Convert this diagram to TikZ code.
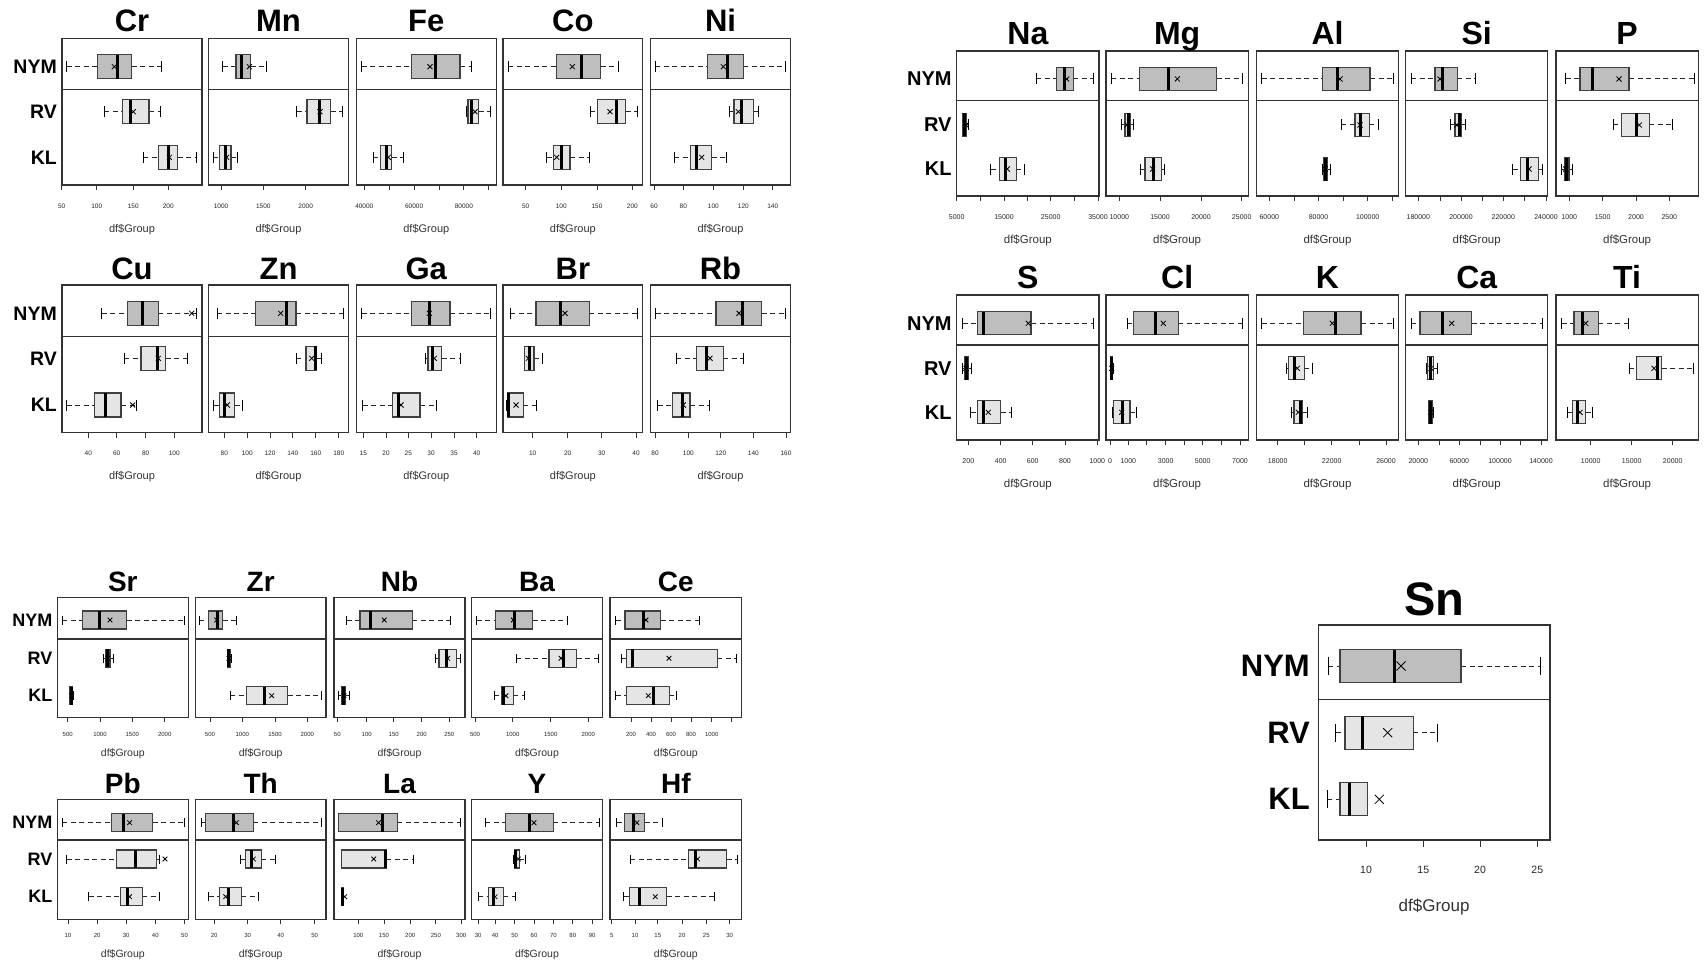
\documentclass[tikz,border=0pt]{standalone}
\usepackage{fontspec}
\setmainfont{Liberation Sans}
\definecolor{nymfill}{HTML}{BEBEBE}
\definecolor{grpfill}{HTML}{E5E5E5}
\definecolor{framegray}{HTML}{333333}
\tikzset{
  panelframe/.style={draw=framegray,line width=1.3pt},
  nymbox/.style={draw=black!75,fill=nymfill,line width=1.1pt},
  grpbox/.style={draw=black!75,fill=grpfill,line width=1.1pt},
  medline/.style={line width=3pt},
  whisk/.style={draw=black!85,line width=1pt,dash pattern=on 5pt off 3.5pt},
  capline/.style={line width=1pt},
  meanmark/.style={line width=0.8pt},
  tickline/.style={draw=framegray,line width=0.9pt},
  elemtitle/.style={anchor=base,inner sep=0pt,font=\fontsize{\tsz}{\tsz}\selectfont\bfseries},
  grplab/.style={anchor=east,inner sep=0pt,font=\fontsize{\gsz}{\gsz}\selectfont\bfseries},
  ticklab/.style={inner sep=0pt,text=black!85,font=\fontsize{\ksz}{\ksz}\selectfont},
  axlab/.style={inner sep=0pt,text=black!80,font=\fontsize{\asz}{\asz}\selectfont}
}
% row geometry: top, bottom, divider, NYM, RV, KL, tick labels, axis label, title baseline
\newcommand{\setrow}[9]{\def\yT{#1}\def\yB{#2}\def\yD{#3}\def\yN{#4}\def\yR{#5}\def\yK{#6}\def\yTk{#7}\def\yAx{#8}\def\yTi{#9}}
% one panel: element, left, right
\newcommand{\panel}[3]{%
  \draw[panelframe] (#2,\yT) rectangle (#3,\yB);
  \draw[panelframe] (#2,\yD) -- (#3,\yD);
  \node[elemtitle] (t#1) at ({(#2+#3)/2},\yTi) {#1};
  \node[axlab] (a#1) at ({(#2+#3)/2},\yAx) {df\$Group};
}
\newcommand{\ticks}[1]{%
  \foreach \p/\l in {#1}{
    \draw[tickline] (\p,\yB) -- (\p,\yB+\tkl);
    \node[ticklab] at (\p,\yTk) {\l};
  }}
% one box: [fill style] y, low whisker, q1, median, q3, high whisker, mean
\newcommand{\bxp}[8][grpbox]{%
  \draw[whisk] (#3,#2) -- (#4,#2) (#6,#2) -- (#7,#2);
  \draw[capline] (#3,#2-\caph) -- (#3,#2+\caph) (#7,#2-\caph) -- (#7,#2+\caph);
  \draw[#1] (#4,#2-\boxh) rectangle (#6,#2+\boxh);
  \draw[medline] (#5,#2-\boxh) -- (#5,#2+\boxh);
  \draw[meanmark] (#8-\mkh,#2-\mkh) -- (#8+\mkh,#2+\mkh) (#8-\mkh,#2+\mkh) -- (#8+\mkh,#2-\mkh);
}
\newcommand{\grplabels}[1]{%
  \node[grplab] at (#1,\yN) {NYM};
  \node[grplab] at (#1,\yR) {RV};
  \node[grplab] at (#1,\yK) {KL};}
\begin{document}
\begin{tikzpicture}[x=1pt,y=-1pt]
  \fill[white] (0,0) rectangle (1705,963);
  \useasboundingbox (0,0) rectangle (1705,963);
  %% top left block
  \def\tsz{31}\def\gsz{19.5}\def\ksz{6.5}\def\asz{11}\def\boxh{12}\def\caph{5.5}\def\mkh{2.5}\def\tkl{5}
  \setrow{38.3}{185}{89.3}{66.7}{111.7}{157.3}{206}{230}{31.7}
  \grplabels{57}
  \panel{Cr}{62}{202}
  \ticks{61.7/50,96.7/100,133.3/150,168.3/200}
  \bxp[nymbox]{\yN}{66.7}{97.3}{117.3}{131.7}{161.7}{114.3}
  \bxp{\yR}{104}{122.7}{130.3}{149}{160.3}{133.3}
  \bxp{\yK}{143.3}{158.3}{168.3}{177.7}{196.7}{169.3}
  \panel{Mn}{208.5}{348.5}
  \ticks{221/1000,263.3/1500,305.7/2000}
  \bxp[nymbox]{\yN}{222.7}{236}{241}{250.7}{266}{249.3}
  \bxp{\yR}{296.7}{307}{319.3}{330.7}{342.7}{320}
  \bxp{\yK}{213.3}{219.3}{225.3}{231}{237.3}{226.7}
  \panel{Fe}{356.3}{496.3}
  \ticks{364.3/40000,389.2/{},414.1/60000,439/{},463.9/80000,488.8/{}}
  \bxp[nymbox]{\yN}{361.7}{411.7}{435.7}{460}{471}{430}
  \bxp{\yR}{466.3}{468}{471}{478.7}{490.7}{475}
  \bxp{\yK}{373.3}{380.7}{386}{391.7}{403}{388.3}
  \panel{Co}{503}{642.7}
  \ticks{525.7/50,561.3/100,597/150,632.3/200}
  \bxp[nymbox]{\yN}{508.3}{556.7}{581.7}{600.7}{618}{572.3}
  \bxp{\yR}{590}{597.3}{616.7}{625.7}{637.3}{610}
  \bxp{\yK}{546.7}{553.3}{561}{570}{589}{556.7}
  \panel{Ni}{650.3}{790.7}
  \ticks{654/60,683.3/80,713.3/100,743.3/120,772.7/140}
  \bxp[nymbox]{\yN}{655}{707.3}{727.7}{743.3}{785}{723.3}
  \bxp{\yR}{729.3}{734}{741.7}{753.3}{758.3}{738.3}
  \bxp{\yK}{674}{690.7}{696.7}{711.7}{726.7}{701.7}
  \setrow{285}{432.7}{336.7}{313.3}{358.3}{405}{453.3}{476.7}{279.3}
  \grplabels{57}
  \panel{Cu}{62}{202}
  \ticks{88.3/40,116.7/60,145.7/80,174.3/100}
  \bxp[nymbox]{\yN}{101.7}{127.7}{142.3}{158.3}{196.7}{191.7}
  \bxp{\yR}{124.3}{141}{157.3}{165.7}{187.3}{158.3}
  \bxp{\yK}{66.7}{94.7}{105}{121}{136}{132.7}
  \panel{Zn}{208.5}{348.5}
  \ticks{224.3/80,247.3/100,270/120,292.7/140,315.7/160,338.7/180}
  \bxp[nymbox]{\yN}{217}{255.7}{286.7}{296}{343.3}{280.7}
  \bxp{\yR}{296}{306}{315}{316.7}{321.7}{311.7}
  \bxp{\yK}{213.7}{219.3}{224}{234.7}{242.7}{227.3}
  \panel{Ga}{356.3}{496.3}
  \ticks{363.3/15,386/20,408.3/25,431/30,454/35,476.7/40}
  \bxp[nymbox]{\yN}{361.7}{411.7}{429.3}{450}{490.7}{429.3}
  \bxp{\yR}{425.3}{428}{432.7}{441.7}{460}{434.3}
  \bxp{\yK}{362.7}{392.3}{398.3}{420}{436}{401}
  \panel{Br}{503}{642.7}
  \ticks{532.7/10,567.7/20,601.7/30,636/40}
  \bxp[nymbox]{\yN}{510}{536}{560.7}{589.3}{637.3}{565}
  \bxp{\yR}{524}{524.7}{529}{534}{542.3}{528.3}
  \bxp{\yK}{506.7}{507.3}{508.3}{523.3}{536}{516}
  \panel{Rb}{650.3}{790.7}
  \ticks{655/80,688.3/100,720.7/120,753.3/140,786/160}
  \bxp[nymbox]{\yN}{655.7}{716}{742.3}{761.7}{785}{739}
  \bxp{\yR}{676}{696.7}{706.7}{723.3}{743.3}{710}
  \bxp{\yK}{657.7}{672.7}{682.7}{690}{709.3}{683.3}
  %% top right block
  \def\tsz{32}\def\gsz{20}\def\ksz{7}\def\asz{11.5}\def\boxh{11.5}\def\caph{5.5}\def\mkh{2.5}
  \setrow{51}{196}{100.7}{79}{125}{169}{216.7}{240}{45}
  \grplabels{951.7}
  \panel{Na}{956.7}{1099}
  \ticks{956.7/5000,980/{},1004/15000,1027.3/{},1050.7/25000,1074.3/{},1098/35000}
  \bxp[nymbox]{\yN}{1036}{1056.7}{1064.3}{1073.3}{1093.3}{1066.7}
  \bxp{\yR}{962}{962.3}{964}{966}{968.3}{966}
  \bxp{\yK}{990.7}{999.3}{1005}{1016.3}{1024.7}{1007.3}
  \panel{Mg}{1106}{1248.3}
  \ticks{1119.3/10000,1160/15000,1201/20000,1241.7/25000}
  \bxp[nymbox]{\yN}{1111}{1139.3}{1168}{1216.7}{1242.7}{1177.3}
  \bxp{\yR}{1121.7}{1125}{1128}{1130}{1133.3}{1127}
  \bxp{\yK}{1140}{1145}{1153.3}{1161.3}{1164.3}{1152.7}
  \panel{Al}{1256.7}{1398.3}
  \ticks{1269.3/60000,1294.3/{},1318.5/80000,1343.3/{},1367.7/100000,1392.3/{}}
  \bxp[nymbox]{\yN}{1261.7}{1322.7}{1337.7}{1370}{1393.3}{1340}
  \bxp{\yR}{1341}{1355}{1360}{1369.3}{1378.7}{1360}
  \bxp{\yK}{1322.3}{1323.3}{1325.7}{1327.7}{1330}{1325}
  \panel{Si}{1405.7}{1547.7}
  \ticks{1418.3/180000,1440/{},1461/200000,1482.3/{},1503.3/220000,1524.3/{},1546/240000}
  \bxp[nymbox]{\yN}{1411}{1435}{1442.7}{1457.3}{1475.7}{1440}
  \bxp{\yR}{1450}{1455}{1459.3}{1461.7}{1465}{1456.7}
  \bxp{\yK}{1512.7}{1520.7}{1527.3}{1538.3}{1542.7}{1529}
  \panel{P}{1556}{1698.3}
  \ticks{1569.3/1000,1602.7/1500,1636/2000,1669.3/2500}
  \bxp[nymbox]{\yN}{1565.7}{1580}{1592.7}{1629}{1694}{1619}
  \bxp{\yR}{1613.3}{1621.7}{1636.7}{1649.3}{1672.3}{1639.3}
  \bxp{\yK}{1561.7}{1564.3}{1566}{1569}{1572.7}{1565.7}
  \setrow{295}{440}{345}{323.3}{368.3}{412.3}{460.7}{484}{288.3}
  \grplabels{951.7}
  \panel{S}{956.7}{1099}
  \ticks{968.3/200,1000.7/400,1032.7/600,1065/800,1097.3/1000}
  \bxp[nymbox]{\yN}{962.7}{977.3}{983.3}{1031}{1093.3}{1028.3}
  \bxp{\yR}{962}{965}{966.7}{968.3}{971}{966}
  \bxp{\yK}{970.7}{977.3}{983.3}{1000.7}{1011}{988.3}
  \panel{Cl}{1106}{1248.3}
  \ticks{1110/0,1128.3/1000,1146.7/{},1165.7/3000,1184/{},1202.7/5000,1221.7/{},1240/7000}
  \bxp[nymbox]{\yN}{1127.3}{1133.3}{1155}{1178.3}{1242.7}{1163.3}
  \bxp{\yR}{1110}{1110.3}{1111.7}{1112.7}{1113.3}{1111.7}
  \bxp{\yK}{1112.3}{1113.3}{1122.7}{1130}{1136}{1121.7}
  \panel{K}{1256.7}{1398.3}
  \ticks{1277.7/18000,1304.3/{},1331.7/22000,1359/{},1386/26000}
  \bxp[nymbox]{\yN}{1261.7}{1303.3}{1335.7}{1361}{1393.3}{1332.3}
  \bxp{\yR}{1286}{1288.3}{1294.3}{1304.3}{1312}{1297.3}
  \bxp{\yK}{1291.7}{1294}{1300}{1302.7}{1307.3}{1298.3}
  \panel{Ca}{1405.7}{1547.7}
  \ticks{1418.3/20000,1439/{},1459.3/60000,1480/{},1500/100000,1520.7/{},1541/140000}
  \bxp[nymbox]{\yN}{1411}{1420}{1442.7}{1471.7}{1542.7}{1451.7}
  \bxp{\yR}{1426.7}{1427.7}{1430.7}{1433.3}{1437.7}{1431}
  \bxp{\yK}{1428.3}{1429}{1430.7}{1432.7}{1433.3}{1430.7}
  \panel{Ti}{1556}{1698.3}
  \ticks{1590.7/10000,1631.7/15000,1672.7/20000}
  \bxp[nymbox]{\yN}{1561.7}{1574}{1582.7}{1598.3}{1628.3}{1585.7}
  \bxp{\yR}{1629.3}{1636.7}{1657.3}{1661.7}{1693.3}{1654}
  \bxp{\yK}{1567.7}{1572.3}{1577.3}{1585.7}{1592.3}{1580}
  %% bottom left block
  \def\tsz{28}\def\gsz{18}\def\ksz{6}\def\asz{10.5}\def\boxh{9}\def\caph{4.5}\def\mkh{2.3}
  \setrow{597.3}{717.3}{639}{620}{658.3}{695.7}{734}{753.3}{591.7}
  \grplabels{52.5}
  \panel{Sr}{57.3}{188.3}
  \ticks{67.7/500,100/1000,132.3/1500,164.7/2000}
  \bxp[nymbox]{\yN}{62.3}{82.3}{99.3}{126.7}{184}{110}
  \bxp{\yR}{103.3}{105.3}{107.3}{110}{113.3}{107.7}
  \bxp{\yK}{69.3}{70}{71}{72.7}{73.3}{71.5}
  \panel{Zr}{195.3}{326}
  \ticks{210/500,242.3/1000,275/1500,307.3/2000}
  \bxp[nymbox]{\yN}{199.3}{208.3}{217.3}{222.7}{236}{216.7}
  \bxp{\yR}{227}{227.7}{228.7}{230.7}{231.7}{229}
  \bxp{\yK}{230}{246.7}{264.3}{287.7}{321.7}{271.7}
  \panel{Nb}{334}{465}
  \ticks{337.3/50,366.7/100,393.7/150,421.7/200,449.3/250}
  \bxp[nymbox]{\yN}{346.7}{360}{370.7}{412.3}{450.7}{384.3}
  \bxp{\yR}{435.3}{439}{446.7}{456.7}{460}{447.7}
  \bxp{\yK}{338.3}{341.7}{343.3}{345.7}{349.3}{344}
  \panel{Ba}{471.7}{602.3}
  \ticks{475/500,512.7/1000,550.7/1500,588.3/2000}
  \bxp[nymbox]{\yN}{476.7}{495.3}{514}{532.7}{567.3}{513.3}
  \bxp{\yR}{516}{549}{563.3}{576.7}{598.3}{561}
  \bxp{\yK}{494}{501.7}{503.3}{513.3}{524.3}{506}
  \panel{Ce}{610}{741.7}
  \ticks{631/200,651/400,671/600,691/800,711.7/1000,731.7/{}}
  \bxp[nymbox]{\yN}{615.7}{625}{643.3}{660.7}{699.3}{646}
  \bxp{\yR}{621.3}{626.7}{632.3}{717.3}{736.7}{669}
  \bxp{\yK}{615.7}{626.7}{653.3}{669.3}{676}{648.3}
  \setrow{799.3}{919.3}{840}{822.7}{859}{896.7}{935.7}{955}{793.3}
  \grplabels{52.5}
  \panel{Pb}{57.3}{188.3}
  \ticks{68/10,97.1/20,126.2/30,155.3/40,184.5/50}
  \bxp[nymbox]{\yN}{62.1}{111.7}{123.8}{152.9}{184.5}{129.6}
  \bxp{\yR}{66.5}{116.5}{135}{156.3}{159.2}{165}
  \bxp{\yK}{88.8}{120.4}{127.2}{142.2}{159.2}{129.6}
  \panel{Th}{195.3}{326}
  \ticks{214.1/20,247.6/30,280.6/40,314.6/50}
  \bxp[nymbox]{\yN}{201.5}{205.3}{233}{253.4}{321.4}{236.4}
  \bxp{\yR}{240.3}{245.1}{251.5}{261.2}{275.7}{253.4}
  \bxp{\yK}{208.7}{219.4}{228.2}{241.3}{258.7}{225.7}
  \panel{La}{334}{465}
  \ticks{358.3/100,384/150,410.2/200,435.9/250,461.2/300}
  \bxp[nymbox]{\yN}{338.8}{338.8}{382.5}{397.1}{460.2}{378.6}
  \bxp{\yR}{341.3}{341.3}{385}{386}{413.6}{373.8}
  \bxp{\yK}{341.3}{341.8}{342.7}{343.7}{343.7}{344.7}
  \panel{Y}{471.7}{602.3}
  \ticks{478.2/30,495.1/40,514.6/50,534/60,553.4/70,572.8/80,592.2/90}
  \bxp[nymbox]{\yN}{485.4}{505.8}{529.1}{553.4}{599.5}{534}
  \bxp{\yR}{513.1}{514.6}{515.5}{519.4}{525.2}{518.4}
  \bxp{\yK}{478.2}{488.8}{493.7}{503.4}{515.5}{495.1}
  \panel{Hf}{610}{741.7}
  \ticks{611.7/5,635/10,657.8/15,682/20,706.3/25,729.6/30}
  \bxp[nymbox]{\yN}{616.5}{624.8}{633.5}{644.7}{662.6}{636.9}
  \bxp{\yR}{630.1}{688.3}{695.1}{726.7}{737.9}{697.6}
  \bxp{\yK}{623.8}{629.6}{639.3}{666.5}{714.6}{655.3}
  %% single large panel
  \def\tsz{47}\def\gsz{31}\def\ksz{10.5}\def\asz{17}\def\boxh{16.5}\def\caph{9}\def\mkh{4.5}\def\tkl{7}
  \setrow{625}{840}{699.3}{666}{732.7}{799.3}{870}{906.7}{615}
  \grplabels{1310}
  \panel{Sn}{1318.3}{1550}
  \ticks{1366/10,1423.3/15,1480/20,1537.3/25}
  \bxp[nymbox]{\yN}{1328.3}{1340}{1394.3}{1461}{1540.7}{1401}
  \bxp{\yR}{1335.7}{1345}{1362.7}{1413.3}{1437.3}{1387.7}
  \bxp{\yK}{1327.3}{1340}{1349.3}{1367.7}{1367.7}{1379.3}
\end{tikzpicture}
\end{document}
